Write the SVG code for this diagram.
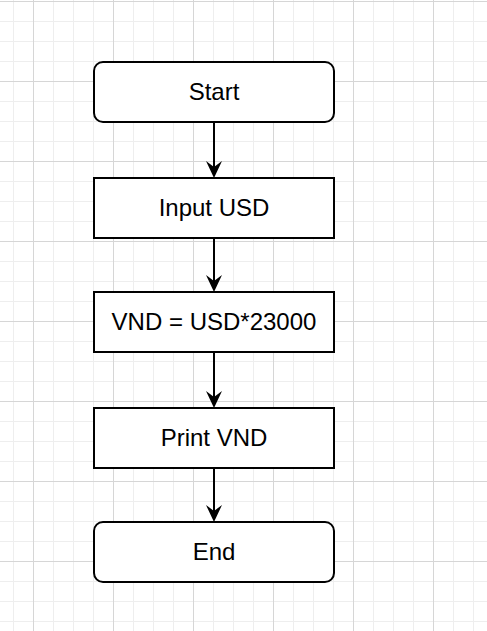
<svg xmlns="http://www.w3.org/2000/svg" width="487" height="631" viewBox="0 0 487 631">
  <style>
    .node { fill: #ffffff; stroke: #000000; stroke-width: 2; }
    .label { font-family: "Liberation Sans", Arial, Helvetica, sans-serif; font-size: 24px; fill: #000000; text-anchor: middle; }
    .conn { stroke: #000000; stroke-width: 2; fill: none; }
  </style>
  <defs>
    <pattern id="minor" patternUnits="userSpaceOnUse" x="13" y="1" width="20" height="20">
      <rect x="0" y="0" width="20" height="1" fill="#eeeeee"/>
      <rect x="0" y="0" width="1" height="20" fill="#eeeeee"/>
    </pattern>
    <pattern id="major" patternUnits="userSpaceOnUse" x="33" y="1" width="80" height="80">
      <rect x="0" y="0" width="80" height="1" fill="#d6d6d6"/>
      <rect x="0" y="0" width="1" height="80" fill="#d6d6d6"/>
    </pattern>
    <marker id="arrow" markerUnits="userSpaceOnUse" viewBox="0 0 17 16" refX="11" refY="8" markerWidth="17" markerHeight="16" orient="auto">
      <path d="M0 0 L17 8 L0 16 L6 8 Z" fill="#000000"/>
    </marker>
  </defs>
  <rect width="487" height="631" fill="#ffffff"/>
  <rect width="487" height="631" fill="url(#minor)"/>
  <rect width="487" height="631" fill="url(#major)"/>

  <g id="connectors">
    <line class="conn" x1="214" y1="122" x2="214" y2="172" marker-end="url(#arrow)"/>
    <line class="conn" x1="214" y1="238" x2="214" y2="286" marker-end="url(#arrow)"/>
    <line class="conn" x1="214" y1="352" x2="214" y2="402" marker-end="url(#arrow)"/>
    <line class="conn" x1="214" y1="468" x2="214" y2="516" marker-end="url(#arrow)"/>
  </g>

  <g id="start">
    <rect class="node" x="94" y="62" width="240" height="60" rx="9" ry="9"/>
    <text class="label" x="214" y="99.5">Start</text>
  </g>
  <g id="input">
    <rect class="node" x="94" y="178" width="240" height="60"/>
    <text class="label" x="214" y="215.5">Input USD</text>
  </g>
  <g id="compute">
    <rect class="node" x="94" y="292" width="240" height="60"/>
    <text class="label" x="214" y="329.5">VND = USD*23000</text>
  </g>
  <g id="print">
    <rect class="node" x="94" y="408" width="240" height="60"/>
    <text class="label" x="214" y="445.5">Print VND</text>
  </g>
  <g id="end">
    <rect class="node" x="94" y="522" width="240" height="60" rx="9" ry="9"/>
    <text class="label" x="214" y="559.5">End</text>
  </g>
</svg>
